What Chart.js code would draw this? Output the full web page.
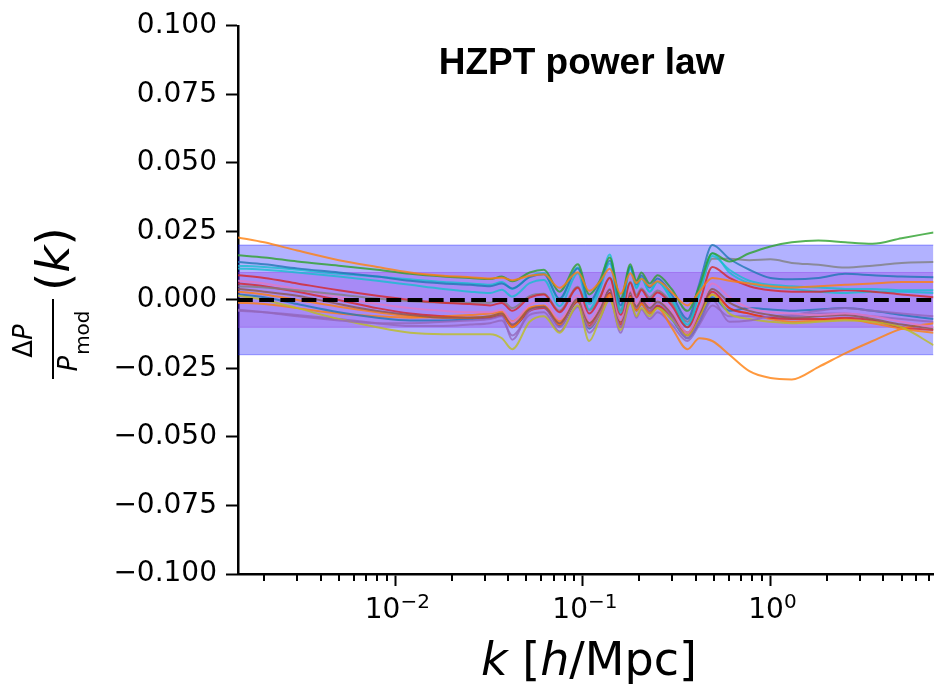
<!DOCTYPE html>
<html><head><meta charset="utf-8">
<script src="https://cdn.jsdelivr.net/npm/chart.js@4.4.1/dist/chart.umd.min.js"></script>
<style>html,body{margin:0;padding:0;background:#fff;}#wrap{width:935px;height:684px;}</style>
</head><body><div id="wrap"><canvas id="c" width="935" height="684"></canvas></div>
<script>
// ---- data (k in h/Mpc, values = ΔP/P_mod) ----
const kValues = [0.00145, 0.002, 0.003, 0.005, 0.008, 0.012, 0.018, 0.025, 0.032, 0.037, 0.042, 0.052, 0.062, 0.075, 0.094, 0.108, 0.123, 0.139, 0.159, 0.179, 0.193, 0.205, 0.227, 0.25, 0.297, 0.361, 0.418, 0.49, 0.604, 0.772, 1.0, 1.3, 1.8, 2.5, 3.5, 5.0, 7.4];

const s1  = [0.0228, 0.021, 0.018, 0.0145, 0.012, 0.010, 0.0088, 0.0083, 0.0078, 0.0081, 0.0072, 0.0088, 0.0094, 0.0044, 0.0101, 0.0033, 0.0066, 0.0114, 0.0022, 0.0097, 0.0061, 0.0077, 0.005, 0.0068, 0.0028, -0.002, 0.003, 0.008, 0.007, 0.006, 0.005, 0.0045, 0.005, 0.0055, 0.006, 0.0065, 0.0065];
const s2  = [0.0163, 0.0155, 0.014, 0.0125, 0.011, 0.0095, 0.0085, 0.008, 0.0076, 0.0085, 0.0068, 0.010, 0.011, 0.003, 0.013, 0.002, 0.007, 0.0155, 0.0005, 0.013, 0.007, 0.010, 0.006, 0.009, 0.004, -0.004, 0.005, 0.017, 0.014, 0.017, 0.0195, 0.021, 0.0217, 0.021, 0.0205, 0.0225, 0.0246];
const s3  = [0.0138, 0.013, 0.0115, 0.010, 0.0085, 0.007, 0.006, 0.0055, 0.005, 0.006, 0.0042, 0.0083, 0.0094, 0.0005, 0.0115, -0.0008, 0.0056, 0.0144, -0.002, 0.0122, 0.0056, 0.0089, 0.0045, 0.0078, 0.002, -0.007, 0.006, 0.020, 0.015, 0.011, 0.008, 0.0075, 0.008, 0.0095, 0.009, 0.0085, 0.0083];
const s4  = [0.0115, 0.011, 0.010, 0.0085, 0.007, 0.0055, 0.004, 0.003, 0.0025, 0.0037, 0.0012, 0.0061, 0.0073, -0.0023, 0.0097, -0.0035, 0.0037, 0.0133, -0.0047, 0.0114, 0.0042, 0.0078, 0.003, 0.0066, 0.0006, -0.009, 0.002, 0.016, 0.011, 0.007, 0.0055, 0.005, 0.0045, 0.004, 0.004, 0.0035, 0.0035];
const s5  = [0.009, 0.008, 0.006, 0.0035, 0.0015, 0.0, -0.001, -0.0015, -0.002, -0.0011, -0.004, 0.0008, 0.002, -0.0045, 0.0044, -0.005, 0.0005, 0.008, -0.0054, 0.0063, 0.0009, 0.0036, 0.0, 0.0027, -0.002, -0.010, -0.001, 0.012, 0.008, 0.005, 0.0035, 0.003, 0.003, 0.0035, 0.003, 0.002, 0.001];
const s6  = [0.005, 0.0045, 0.0035, 0.002, 0.0005, -0.0005, -0.001, -0.001, -0.001, -0.0002, -0.003, 0.0014, 0.0022, -0.004, 0.0048, -0.0038, 0.001, 0.0082, -0.004, 0.0066, 0.0018, 0.0042, 0.001, 0.0034, -0.001, -0.008, 0.003, 0.015, 0.015, 0.0145, 0.0148, 0.0135, 0.0128, 0.0118, 0.0125, 0.0135, 0.0138];
const s7  = [0.007, 0.006, 0.004, 0.001, -0.0015, -0.003, -0.004, -0.0045, -0.0045, -0.0036, -0.008, -0.0018, -0.0005, -0.007, 0.0017, -0.0075, -0.002, 0.0056, -0.0074, 0.004, -0.0014, 0.0015, -0.002, 0.0007, -0.004, -0.012, -0.004, 0.006, 0.001, -0.003, -0.0045, -0.005, -0.0055, -0.005, -0.006, -0.008, -0.010];
const s8  = [0.004, 0.003, 0.0015, -0.0015, -0.004, -0.0055, -0.0065, -0.0065, -0.006, -0.005, -0.009, -0.0034, -0.0025, -0.0085, 0.0003, -0.0085, -0.0035, 0.0037, -0.008, 0.0025, -0.0025, 0.0, -0.003, -0.0006, -0.005, -0.012, -0.005, 0.004, -0.001, -0.004, -0.0055, -0.0065, -0.006, -0.0055, -0.007, -0.009, -0.0105];
const s9  = [-0.0036, -0.0045, -0.006, -0.0075, -0.0085, -0.0085, -0.008, -0.0075, -0.007, -0.006, -0.0145, -0.004, -0.0025, -0.010, 0.0005, -0.010, -0.0045, 0.004, -0.010, 0.003, -0.003, 0.0, -0.004, -0.001, -0.006, -0.014, -0.008, 0.0, -0.008, -0.0075, -0.006, -0.0055, -0.004, -0.003, -0.004, -0.005, -0.006];
const s10 = [0.0015, 0.0, -0.003, -0.007, -0.010, -0.012, -0.0125, -0.0125, -0.0125, -0.014, -0.018, -0.008, -0.006, -0.012, -0.002, -0.015, -0.007, 0.0, -0.011, -0.001, -0.006, -0.003, -0.006, -0.003, -0.007, -0.013, -0.006, 0.002, -0.005, -0.007, -0.008, -0.0085, -0.008, -0.0075, -0.008, -0.010, -0.0165];
const s11 = [0.003, 0.002, 0.0, -0.0025, -0.0045, -0.006, -0.0065, -0.0065, -0.006, -0.005, -0.010, -0.003, -0.002, -0.009, 0.0, -0.010, -0.005, 0.002, -0.010, 0.001, -0.004, -0.0015, -0.005, -0.003, -0.010, -0.018, -0.014, -0.015, -0.020, -0.026, -0.0285, -0.029, -0.0245, -0.0195, -0.015, -0.0105, -0.0085];
const s12 = [0.0125, 0.012, 0.011, 0.0095, 0.0085, 0.0075, 0.0065, 0.006, 0.0055, 0.0065, 0.004, 0.0086, 0.0098, 0.0, 0.0118, -0.0015, 0.005, 0.0166, -0.0035, 0.0123, 0.0045, 0.008, 0.003, 0.0065, 0.0, -0.010, 0.003, 0.017, 0.010, 0.006, 0.0045, 0.004, 0.003, 0.0025, 0.003, 0.003, 0.0025];
const s13 = [0.006, 0.005, 0.003, 0.0, -0.003, -0.005, -0.006, -0.0065, -0.0065, -0.0057, -0.0097, -0.004, -0.003, -0.009, -0.0005, -0.0095, -0.0045, 0.0025, -0.009, 0.0015, -0.0035, -0.001, -0.004, -0.002, -0.006, -0.013, -0.006, 0.003, -0.003, -0.005, -0.0065, -0.007, -0.007, -0.0065, -0.0075, -0.010, -0.011];
const s14 = [0.002, 0.001, -0.0015, -0.0045, -0.0065, -0.0075, -0.0075, -0.007, -0.0065, -0.0056, -0.010, -0.0038, -0.0025, -0.0095, -0.0005, -0.0105, -0.005, 0.0025, -0.010, 0.0015, -0.004, -0.0015, -0.005, -0.0025, -0.007, -0.014, -0.008, 0.001, -0.004, -0.003, -0.0035, -0.004, -0.0035, -0.003, -0.004, -0.0055, -0.007];
const s15 = [-0.001, -0.0015, -0.003, -0.005, -0.006, -0.0065, -0.006, -0.0055, -0.005, -0.0043, -0.0078, -0.0029, -0.0022, -0.0078, -0.0008, -0.0085, -0.0043, 0.0013, -0.0082, 0.0004, -0.0036, -0.0017, -0.0045, -0.0025, -0.006, -0.012, -0.006, 0.002, -0.003, -0.005, -0.007, -0.008, -0.0075, -0.007, -0.0085, -0.0105, -0.012];
const s16 = [-0.004, -0.0045, -0.0055, -0.007, -0.0085, -0.0095, -0.0095, -0.009, -0.0085, -0.0075, -0.013, -0.0055, -0.0045, -0.0115, -0.0025, -0.012, -0.007, 0.0005, -0.012, -0.001, -0.0065, -0.0035, -0.007, -0.0045, -0.009, -0.015, -0.009, -0.002, -0.006, -0.006, -0.0065, -0.006, -0.005, -0.005, -0.006, -0.007, -0.008];

const seriesList = [s1, s2, s3, s4, s5, s6, s7, s8, s9, s10, s11, s12, s13, s14, s15, s16];
const seriesColors = ['#ff7f0e', '#2ca02c', '#1f77b4', '#17becf', '#d62728', '#7f7f7f', '#e377c2', '#8c564b', '#9467bd', '#bcbd22', '#ff7f0e', '#17becf', '#d62728', '#1f77b4', '#ff7f0e', '#9467bd'];

const kRange = [0.00145, 7.4];
const outerBand = [0.02, -0.02];
const innerBand = [0.01, -0.01];
const zeroLine = [0, 0];

const yTickValues = [-0.1, -0.075, -0.05, -0.025, 0, 0.025, 0.05, 0.075, 0.1];
const xTickValues = [0.002, 0.003, 0.004, 0.005, 0.006, 0.007, 0.008, 0.009, 0.01, 0.02, 0.03, 0.04, 0.05, 0.06, 0.07, 0.08, 0.09, 0.1, 0.2, 0.3, 0.4, 0.5, 0.6, 0.7, 0.8, 0.9, 1, 2, 3, 4, 5, 6, 7];
const xMajorTicks = [0.01, 0.1, 1];
const xMajorExponents = ['\u22122', '\u22121', '0'];
const titleText = 'HZPT power law';

// ---- datasets ----
function pts(xs, ys) { return xs.map((x, i) => ({x: x, y: ys[i]})); }
const datasets = [];
datasets.push({data: pts(kRange, zeroLine), borderColor: '#000', borderWidth: 4, borderDash: [14.8, 6.4], pointRadius: 0, fill: false, order: 0});
seriesList.forEach((s, i) => {
  datasets.push({data: pts(kValues, s), borderColor: seriesColors[i] + 'cc', borderWidth: 2, pointRadius: 0, fill: false, cubicInterpolationMode: 'monotone', order: 1 + i});
});
datasets.push({data: pts(kRange, [innerBand[0], innerBand[0]]), borderColor: 'rgba(138,43,226,0.35)', borderWidth: 1, pointRadius: 0, fill: '+1', backgroundColor: 'rgba(138,43,226,0.3)', order: 50});
datasets.push({data: pts(kRange, [innerBand[1], innerBand[1]]), borderColor: 'rgba(138,43,226,0.35)', borderWidth: 1, pointRadius: 0, fill: false, order: 51});
datasets.push({data: pts(kRange, [outerBand[0], outerBand[0]]), borderColor: 'rgba(0,0,255,0.35)', borderWidth: 1, pointRadius: 0, fill: '+1', backgroundColor: 'rgba(0,0,255,0.3)', order: 60});
datasets.push({data: pts(kRange, [outerBand[1], outerBand[1]]), borderColor: 'rgba(0,0,255,0.35)', borderWidth: 1, pointRadius: 0, fill: false, order: 61});

function drawParts(ctx, parts, x, y) {
  let cx = x;
  parts.forEach(p => { ctx.font = p[1]; ctx.fillText(p[0], cx, y + (p[2] || 0)); cx += ctx.measureText(p[0]).width; });
}
function partsWidth(ctx, parts) {
  let w = 0; parts.forEach(p => { ctx.font = p[1]; w += ctx.measureText(p[0]).width; }); return w;
}

const F = '"DejaVu Sans", sans-serif';
const decor = {
  id: 'decor',
  afterDraw(chart) {
    const ctx = chart.ctx, xs = chart.scales.x, ys = chart.scales.y, ca = chart.chartArea;
    ctx.save();
    ctx.strokeStyle = '#000'; ctx.lineWidth = 2;
    xTickValues.forEach(v => {
      if (xMajorTicks.indexOf(v) < 0) {
        const px = Math.round(xs.getPixelForValue(v));
        ctx.beginPath(); ctx.moveTo(px, ca.bottom); ctx.lineTo(px, ca.bottom + 7); ctx.stroke();
      }
    });
    ctx.fillStyle = '#000';
    ctx.textBaseline = 'alphabetic';
    ctx.textAlign = 'left';
    // x tick labels 10^n
    xMajorTicks.forEach((v, i) => {
      const parts = [['10', '28px ' + F, 0], [xMajorExponents[i], '20px ' + F, -10]];
      const w = partsWidth(ctx, parts);
      drawParts(ctx, parts, xs.getPixelForValue(v) - w / 2 + 2, 618);
    });
    // title inside axes
    ctx.font = 'bold 37px "Liberation Sans", Arial, sans-serif';
    ctx.textAlign = 'center';
    ctx.fillText(titleText, ca.left + 0.494 * (ca.right - ca.left), ys.getPixelForValue(0.0824));
    // x axis label
    ctx.textAlign = 'left';
    const xl = [['k', 'italic 46px ' + F], [' [', '46px ' + F], ['h', 'italic 46px ' + F], ['/Mpc]', '46px ' + F]];
    const xw = partsWidth(ctx, xl);
    drawParts(ctx, xl, 589 - xw / 2, 675);
    // y axis label (rotated)
    ctx.save();
    ctx.rotate(-Math.PI / 2);
    const kp = [['(', '47px ' + F], ['k', 'italic 47px ' + F], [')', '47px ' + F]];
    drawParts(ctx, kp, -291, 69);
    const num = [['\u0394', '26px ' + F], ['P', 'italic 26px ' + F]];
    const nw = partsWidth(ctx, num);
    drawParts(ctx, num, -341 - nw / 2, 32);
    ctx.font = 'italic 26px ' + F; const pw = ctx.measureText('P').width;
    ctx.font = '20px ' + F; const mw = ctx.measureText('mod').width;
    const dw = pw + 1 + mw;
    ctx.font = 'italic 26px ' + F; ctx.fillText('P', -341 - dw / 2, 77);
    ctx.font = '20px ' + F; ctx.fillText('mod', -341 - dw / 2 + pw + 1, 89);
    ctx.lineWidth = 2;
    ctx.beginPath(); ctx.moveTo(-379, 53); ctx.lineTo(-299, 53); ctx.stroke();
    ctx.restore();
    ctx.restore();
  }
};

new Chart(document.getElementById('c'), {
  type: 'line',
  data: {datasets: datasets},
  plugins: [decor],
  options: {
    responsive: false, animation: false, devicePixelRatio: 1,
    layout: {padding: {top: 22, right: 1, left: 0, bottom: 0}},
    plugins: {legend: {display: false}, tooltip: {enabled: false}},
    elements: {line: {tension: 0}},
    scales: {
      x: {
        type: 'logarithmic', min: kRange[0], max: kRange[1],
        afterFit: s => { s.height = 110; },
        afterBuildTicks: s => { s.ticks = xTickValues.map(v => ({value: v, major: xMajorTicks.indexOf(v) >= 0})); },
        grid: {display: true, drawOnChartArea: false, drawTicks: true, tickLength: 12, tickWidth: 2,
               tickColor: c => (c.tick && c.tick.major) ? '#000' : 'rgba(0,0,0,0)'},
        border: {display: true, color: '#000', width: 2.5},
        ticks: {autoSkip: false, maxRotation: 0, minRotation: 0, padding: 6, color: '#000',
                font: {family: 'DejaVu Sans', size: 28},
                callback: () => ''}
      },
      y: {
        type: 'linear', min: -0.1, max: 0.1,
        afterFit: s => { s.width = 238; },
        afterBuildTicks: s => { s.ticks = yTickValues.map(v => ({value: v})); },
        grid: {display: true, drawOnChartArea: false, drawTicks: true, tickLength: 12, tickWidth: 2, tickColor: '#000'},
        border: {display: true, color: '#000', width: 2.5},
        ticks: {padding: 9, color: '#000', font: {family: 'DejaVu Sans', size: 28},
                callback: (v) => (Math.abs(v) < 1e-9 ? '0.000' : v.toFixed(3).replace('-', '\u2212'))}
      }
    }
  }
});
</script>
</body></html>
